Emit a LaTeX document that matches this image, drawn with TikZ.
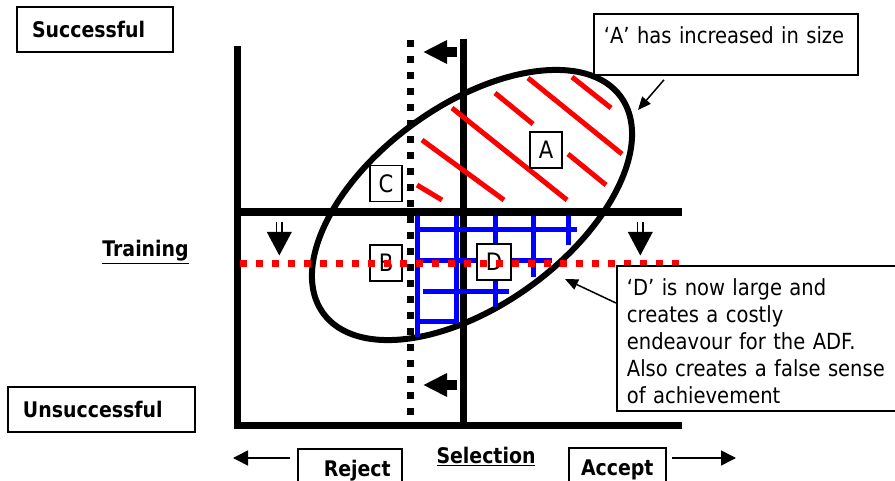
\documentclass[tikz,border=0pt]{standalone}
\usepackage{fontspec}
\setmainfont{DejaVu Sans}[FakeStretch=0.88]
\usepackage{tikz}
\usetikzlibrary{arrows.meta, positioning}

\tikzset{
  axis/.style={line width=7pt},
  hatch/.style={red, line width=5pt},
  grid line/.style={blue, line width=5pt},
  dotline/.style={line width=7pt, dash pattern=on 7pt off 9pt},
  letterbox/.style={draw, fill=white, line width=1.2pt, minimum width=32pt, minimum height=36pt, inner sep=0pt, font=\fontsize{24}{28}\selectfont},
  namebox/.style={draw, line width=1.5pt, font=\bfseries\fontsize{21.5}{25}\selectfont},
  notebox/.style={draw, line width=1.8pt, align=left, inner xsep=10pt, inner ysep=13pt, text height=17pt, font=\fontsize{22.2}{27}\selectfont},
  callout/.style={line width=1.5pt, -{Triangle[length=13pt,width=11pt]}},
  sidearrow/.style={line width=1.5pt, -{Triangle[length=15pt,width=15pt]}},
  blockarrow/.style={line width=10pt, -{Triangle[length=24pt,width=22pt]}},
}

\begin{document}
\begin{tikzpicture}[x=1pt, y=-1pt]
    \useasboundingbox (0,0) rectangle (895,481);
    \clip (0,0) rectangle (895,481);

    % Axes
    \draw[axis] (237,46) -- (237,425) -- (682,425);
    \draw[axis, line width=8pt] (234,212) -- (682,212);
    \draw[axis] (463,39) -- (463,425);

    % Population ellipse
    \draw[line width=6pt, rotate around={36:(472,205)}] (472,205) ellipse [x radius=184, y radius=100];

    % Hatching of A
    \foreach \x/\y/\u/\v in {422/140/504/200, 417/185/442/200, 452/108/567/200,
        495/93/533/124, 528/78/622/154, 572/77/611/108, 568/154/606/185}
        \draw[hatch] (\x,\y) -- (\u,\v);

    % Grid of D
    \foreach \x/\y/\v in {417/216/337, 456/216/323, 495/216/245, 495/278/307,
        533/216/277, 568/216/245}
        \draw[grid line] (\x,\y) -- (\x,\v);
    \foreach \y/\x/\u in {230/417/577, 261/417/552, 292/423/509, 322/417/457}
        \draw[grid line] (\x,\y) -- (\u,\y);

    % Moved selection cut-off
    \draw[dotline] (410.5,40) -- (410.5,420);

    % Quadrant labels
    \node[letterbox] (lblA) at (546,150) {A};
    \node[letterbox] (lblC) at (386,183.5) {C};
    \node[letterbox] (lblB) at (386,263) {B};
    \node[letterbox, minimum width=34pt] (lblD) at (494,262) {D};

    % Moved training cut-off
    \draw[dotline, red] (240,263.3) -- (680,263.3);

    % Shift arrows
    \draw[blockarrow] (457,52) -- (423,52);
    \draw[blockarrow] (457,385) -- (423,385);
    \foreach \x in {279.3,640.3} {
        \fill (\x-12.5,232) -- (\x+12.5,232) -- (\x,255.5) -- cycle;
        \draw[line width=1.5pt] (\x-2.6,222.5) -- (\x-2.6,233) (\x+2.6,222.5) -- (\x+2.6,233);
    }

    % Axis names
    \node[namebox, minimum height=45pt, inner xsep=15pt, text width=126pt, align=left] (succ) at (95,29.5) {Successful};
    \node[namebox, minimum height=45pt, inner xsep=15pt, text width=157pt, align=left] (unsucc) at (101.5,409.5) {Unsuccessful};
    \node[font=\bfseries\fontsize{21.5}{25}\selectfont, inner sep=0pt] (train) at (145.5,252) {\underline{Training}};
    \node[font=\bfseries\fontsize{21.5}{25}\selectfont, inner sep=0pt] (sel) at (486,456) {\underline{Selection}};
    \node[namebox, anchor=north west, minimum height=44pt, text width=82pt, inner xsep=11pt, align=right] (rej) at (297,448) {Reject};
    \node[namebox, anchor=north west, minimum width=97pt, minimum height=44pt] (acc) at (568,447) {Accept};

    \coordinate (rejtip) at (233,458);
    \coordinate (acctip) at (736,458);
    \draw[sidearrow] ([xshift=-7pt,yshift=-10pt]rej.north west) -- (rejtip);
    \draw[sidearrow] ([xshift=5pt,yshift=-11pt]acc.north east) -- (acctip);

    % Notes
    \node[notebox, anchor=north west, text width=244pt, text depth=18pt] (noteA) at (593,13) {‘A’ has increased in size};
    \node[notebox, anchor=north west, text width=280pt, text depth=102pt] (noteD) at (616,265)
        {‘D’ is now large and\\creates a costly\\endeavour for the ADF.\\Also creates a false sense\\of achievement};

    \coordinate (atip) at (638,110);
    \coordinate (dtip) at (565,279);
    \draw[callout] ([xshift=71pt,yshift=-4pt]noteA.south west) -- (atip);
    \draw[callout] ([yshift=-38pt]noteD.north west) -- (dtip);
\end{tikzpicture}
\end{document}
